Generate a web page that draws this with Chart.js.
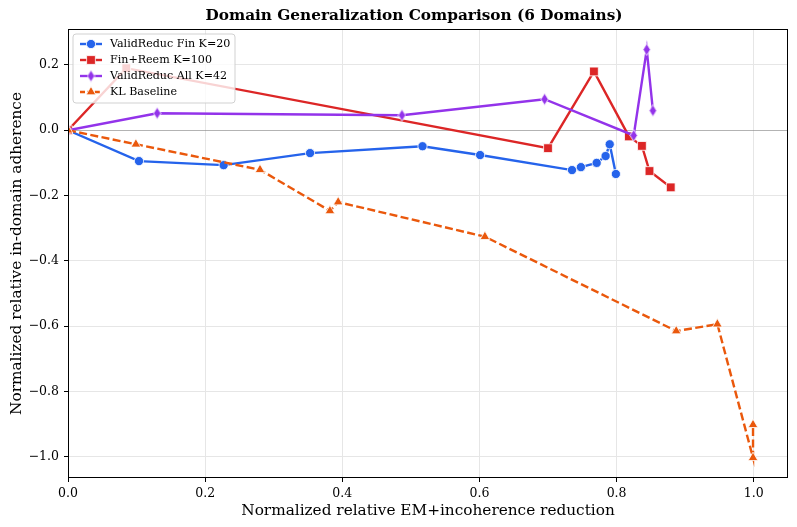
<!DOCTYPE html>
<html>
<head>
<meta charset="utf-8">
<script src="https://cdn.jsdelivr.net/npm/chart.js@4/dist/chart.umd.min.js"></script>
<style>
  body { margin: 0; background: #fff; }
  #wrap { width: 797px; height: 527px; }
</style>
</head>
<body>
<div id="wrap"><canvas id="chart" width="797" height="527"></canvas></div>
<script>
const chartTitle = 'Domain Generalization Comparison (6 Domains)';
const xTicks = [0.0, 0.2, 0.4, 0.6, 0.8, 1.0];
const yTicks = [-1.0, -0.8, -0.6, -0.4, -0.2, 0.0, 0.2];

const seriesLabels = ['ValidReduc Fin K=20', 'Fin+Reem K=100', 'ValidReduc All K=42', 'KL Baseline'];

const finX = [0, 0.1035, 0.227, 0.353, 0.517, 0.601, 0.735, 0.748, 0.771, 0.784, 0.790, 0.799];
const finY = [0, -0.0945, -0.107, -0.070, -0.049, -0.076, -0.122, -0.113, -0.100, -0.079, -0.043, -0.134];

const reemX = [0, 0.085, 0.700, 0.767, 0.818, 0.837, 0.848, 0.879];
const reemY = [0, 0.19, -0.055, 0.180, -0.019, -0.048, -0.125, -0.175];

const allX = [0, 0.130, 0.487, 0.695, 0.825, 0.844, 0.853];
const allY = [0, 0.052, 0.046, 0.095, -0.016, 0.247, 0.060];

const klX = [0, 0.099, 0.280, 0.382, 0.394, 0.608, 0.887, 0.947, 0.999, 0.999];
const klY = [0, -0.043, -0.121, -0.247, -0.220, -0.326, -0.615, -0.594, -1.003, -0.902];

const FONT = "'DejaVu Serif', serif";

function pts(xs, ys) {
  return xs.map((x, i) => ({ x: x, y: ys[i] }));
}

// thin diamond like matplotlib 'd'
function thinDiamond(color) {
  const c = document.createElement('canvas');
  c.width = 9; c.height = 13;
  const g = c.getContext('2d');
  g.beginPath();
  g.moveTo(4.5, 0.6);
  g.lineTo(8.2, 6.5);
  g.lineTo(4.5, 12.4);
  g.lineTo(0.8, 6.5);
  g.closePath();
  g.fillStyle = color;
  g.fill();
  g.strokeStyle = '#fff';
  g.lineWidth = 0.8;
  g.stroke();
  return c;
}

const colors = ['#2563eb', '#dc2626', '#9333ea', '#ea580c'];
const diamond = thinDiamond(colors[2]);

const datasets = [
  { data: pts(finX, finY), style: 'circle', radius: 4.6, dash: [] },
  { data: pts(reemX, reemY), style: 'rect', radius: 6.2, dash: [] },
  { data: pts(allX, allY), style: diamond, radius: 5, dash: [] },
  { data: pts(klX, klY), style: 'triangle', radius: 5.6, dash: [8, 3.4] }
].map((d, i) => ({
  label: seriesLabels[i],
  data: d.data,
  showLine: true,
  borderColor: colors[i],
  backgroundColor: colors[i],
  borderWidth: 2.4,
  borderDash: d.dash,
  pointStyle: d.style,
  pointRadius: d.radius,
  pointHoverRadius: d.radius,
  pointBorderColor: '#fff',
  pointBorderWidth: 0.8,
  pointBackgroundColor: colors[i],
  order: 4 - i,
  tension: 0
}));

const framePlugin = {
  id: 'frame',
  afterDatasetsDraw(chart) {
    const { ctx, chartArea: a } = chart;
    ctx.save();
    ctx.strokeStyle = '#000';
    ctx.lineWidth = 1;
    ctx.strokeRect(a.left + 0.5, a.top + 0.5, a.right - a.left - 1, a.bottom - a.top - 1);

    // legend in upper left
    const lx = a.left + 5, ly = a.top + 5, lw = 162, lh = 69;
    ctx.beginPath();
    ctx.roundRect(lx, ly, lw, lh, 3);
    ctx.fillStyle = 'rgba(255,255,255,0.8)';
    ctx.fill();
    ctx.strokeStyle = 'rgba(204,204,204,0.9)';
    ctx.lineWidth = 1;
    ctx.stroke();
    ctx.font = '11.1px ' + FONT;
    ctx.textBaseline = 'middle';
    chart.data.datasets.forEach((ds, i) => {
      const y = ly + 10 + i * 16;
      ctx.beginPath();
      ctx.setLineDash(ds.borderDash.length ? [5, 2.4] : []);
      ctx.strokeStyle = ds.borderColor;
      ctx.lineWidth = 2.4;
      ctx.moveTo(lx + 7, y);
      ctx.lineTo(lx + 29, y);
      ctx.stroke();
      ctx.setLineDash([]);
      ctx.fillStyle = ds.borderColor;
      ctx.strokeStyle = '#fff';
      ctx.lineWidth = 0.8;
      Chart.helpers.drawPoint(ctx, {
        pointStyle: ds.pointStyle,
        radius: ds.pointRadius,
        borderWidth: 0.8,
        rotation: 0
      }, lx + 18, y);
      ctx.fillStyle = '#000';
      ctx.fillText(ds.label, lx + 37, y + 0.5);
    });

    // title
    ctx.font = 'bold 15.3px ' + FONT;
    ctx.textAlign = 'center';
    ctx.textBaseline = 'middle';
    ctx.fillStyle = '#000';
    ctx.fillText(chartTitle, 414, 16);
    ctx.restore();
  }
};

const gridColor = (c) => (c.tick && c.tick.value === 0) ? 'rgba(128,128,128,0.6)' : '#e6e6e6';

new Chart(document.getElementById('chart'), {
  type: 'scatter',
  data: { datasets: datasets },
  options: {
    responsive: false,
    animation: false,
    layout: { padding: { top: 29, right: 9, left: 0, bottom: 0 } },
    plugins: {
      legend: { display: false },
      title: { display: false },
      tooltip: { enabled: false }
    },
    scales: {
      x: {
        type: 'linear',
        min: 0,
        max: 1.05,
        afterBuildTicks: (s) => { s.ticks = xTicks.map(v => ({ value: v })); },
        afterFit: (s) => { s.height = 49; },
        grid: { color: '#e6e6e6', tickColor: '#000', tickLength: 4, lineWidth: 1 },
        border: { display: false },
        ticks: {
          color: '#000',
          font: { family: FONT, size: 12.5 },
          padding: 4,
          maxRotation: 0,
          callback: (v) => v.toFixed(1)
        },
        title: {
          display: true,
          text: 'Normalized relative EM+incoherence reduction',
          color: '#000',
          font: { family: FONT, size: 15.3 },
          padding: { top: 0, bottom: 7 }
        }
      },
      y: {
        type: 'linear',
        min: -1.065,
        max: 0.31,
        afterBuildTicks: (s) => { s.ticks = yTicks.map(v => ({ value: v })); },
        afterFit: (s) => { s.width = 68; },
        grid: {
          color: gridColor,
          tickColor: '#000',
          tickLength: 4,
          lineWidth: 1
        },
        border: { display: false },
        ticks: {
          color: '#000',
          font: { family: FONT, size: 12.5 },
          padding: 5,
          callback: (v) => (v < 0 ? '\u2212' : '') + Math.abs(v).toFixed(1)
        },
        title: {
          display: true,
          text: 'Normalized relative in-domain adherence',
          color: '#000',
          font: { family: FONT, size: 15.3 },
          padding: { top: 8, bottom: 0 }
        }
      }
    }
  },
  plugins: [framePlugin]
});
</script>
</body>
</html>
